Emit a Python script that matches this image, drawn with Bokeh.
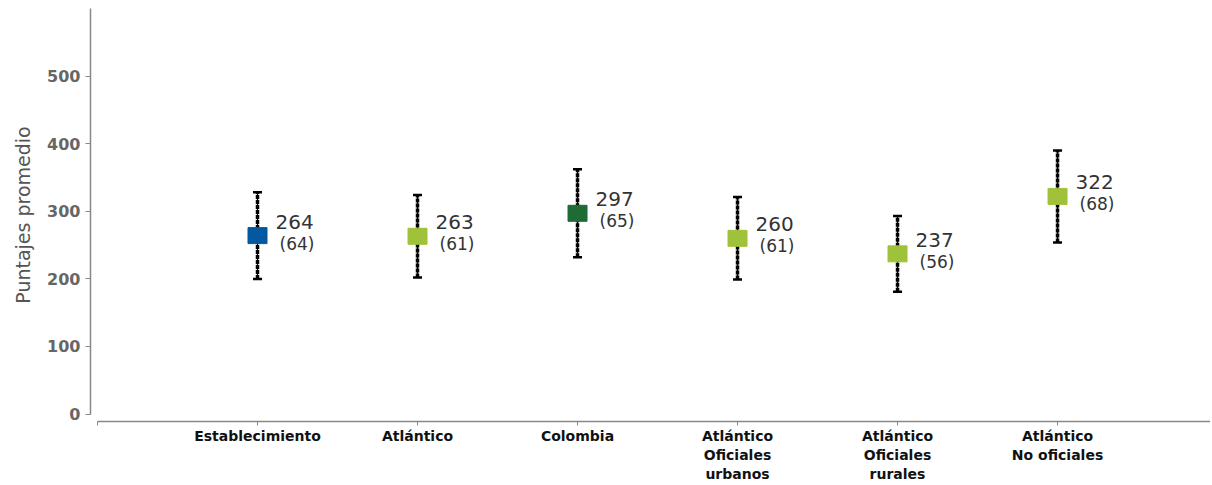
from bokeh.plotting import figure
from bokeh.models import FixedTicker, ColumnDataSource, Range1d
from bokeh.embed import file_html
from bokeh.resources import INLINE
from bokeh.core.properties import value

categories = ["Establecimiento", "Atlántico", "Colombia",
              "Atlántico\nOficiales\nurbanos", "Atlántico\nOficiales\nrurales",
              "Atlántico\nNo oficiales"]
means = [264, 263, 297, 260, 237, 322]
sds = [64, 61, 65, 61, 56, 68]
colors = ["#0358A0", "#A0C13A", "#1E6B36", "#A0C13A", "#A0C13A", "#A0C13A"]
y_ticks = [0, 100, 200, 300, 400, 500]

xs = list(range(1, len(categories) + 1))
src = ColumnDataSource(dict(
    x=xs, m=means, lo=[m - s for m, s in zip(means, sds)],
    hi=[m + s for m, s in zip(means, sds)], c=colors,
    mt=[str(m) for m in means], st=["(%d)" % s for s in sds],
))

XEND = 6.956
p = figure(width=1210, height=484, output_backend="svg", toolbar_location=None,
           x_range=Range1d(-0.04375, XEND), y_range=Range1d(-11, 600),
           min_border_left=90, min_border_top=8, min_border_bottom=63, min_border_right=0)
p.outline_line_color = None
p.xgrid.visible = False
p.ygrid.visible = False
p.background_fill_color = "white"

# error bars
p.segment(x0="x", x1="x", y0="lo", y1="hi", source=src, line_color="black",
          line_width=1.2)
p.segment(x0="x", x1="x", y0="lo", y1="hi", source=src, line_color="black",
          line_width=3.5, line_dash="4 1")
p.scatter(x="x", y="hi", source=src, marker="dash", size=9, line_color="black", line_width=2.5)
p.scatter(x="x", y="lo", source=src, marker="dash", size=9, line_color="black", line_width=2.5)

# means
p.rect(x="x", y="m", width=19, height=16, width_units="screen", height_units="screen",
       source=src, fill_color="c", line_color="c")

p.text(x="x", y="m", text="mt", source=src, x_offset=18, y_offset=-14,
       text_baseline="middle", text_align="left", text_font=value("DejaVu Sans"),
       text_font_size="20px", text_color="#333333")
p.text(x="x", y="m", text="st", source=src, x_offset=22, y_offset=8,
       text_baseline="middle", text_align="left", text_font=value("DejaVu Sans"),
       text_font_size="17px", text_color="#333333")

# x axis
xa = p.xaxis[0]
xa.ticker = FixedTicker(ticks=[0] + xs)
xa.major_label_overrides = {0: " ", **{x: c for x, c in zip(xs, categories)}}
xa.bounds = (0, XEND)
xa.axis_line_color = "#888888"
xa.axis_line_width = 1.5
xa.major_tick_line_color = "#888888"
xa.major_tick_out = 4
xa.major_tick_in = 0
xa.minor_tick_line_color = None
xa.major_label_text_font = "DejaVu Sans"
xa.major_label_text_font_style = "bold"
xa.major_label_text_font_size = "14px"
xa.major_label_text_color = "#111111"
xa.major_label_standoff = 2

ya = p.yaxis[0]
ya.ticker = FixedTicker(ticks=y_ticks)
ya.bounds = (0, 600)
ya.axis_line_color = "#888888"
ya.axis_line_width = 1.5
ya.major_tick_line_color = "#888888"
ya.major_tick_out = 5
ya.major_tick_in = 0
ya.minor_tick_line_color = None
ya.major_label_text_font = "DejaVu Sans"
ya.major_label_text_font_style = "bold"
ya.major_label_text_font_size = "16px"
ya.major_label_text_color = "#666666"
ya.major_label_standoff = 5
ya.axis_label = "Puntajes promedio"
ya.axis_label_text_font = "DejaVu Sans"
ya.axis_label_text_font_style = "normal"
ya.axis_label_text_font_size = "19px"
ya.axis_label_text_color = "#555555"
ya.axis_label_standoff = 10

open("out.html", "w").write(file_html(p, INLINE))
